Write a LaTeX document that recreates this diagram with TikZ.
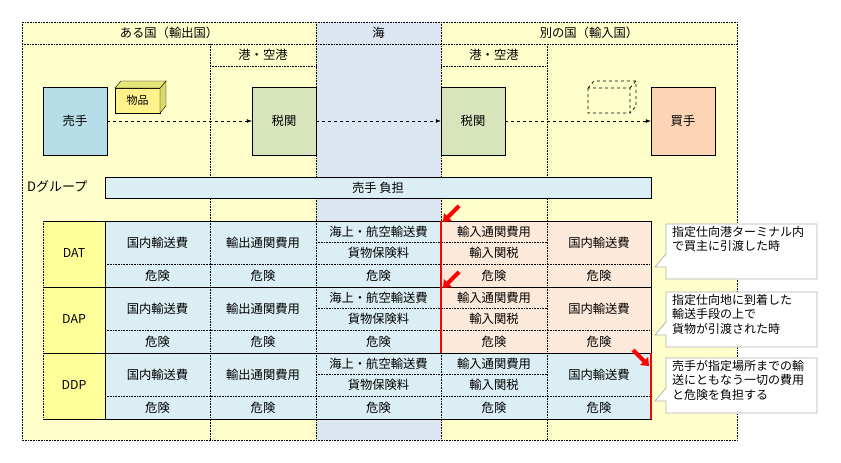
\documentclass[tikz,border=0pt]{standalone}
\usepackage{fontspec}
\setmainfont{Noto Sans CJK JP}
\usetikzlibrary{positioning, arrows.meta, calc}
\definecolor{bgYellow}{HTML}{FFFFCC}
\definecolor{seaBlue}{HTML}{DCE6F1}
\definecolor{sellerBlue}{HTML}{B7DEE8}
\definecolor{customsGreen}{HTML}{D8E4BC}
\definecolor{buyerPeach}{HTML}{FCD5B4}
\definecolor{cellBlue}{HTML}{DAEEF3}
\definecolor{cellPeach}{HTML}{FDE9D9}
\definecolor{termYellow}{HTML}{FFFF99}
\tikzset{
  party/.style = {draw, minimum width=64pt, minimum height=68pt, inner sep=0pt},
  dots/.style = {densely dotted, line width=0.6pt},
  cell/.style = {inner sep=0pt, font=\fontsize{12.3}{14}\selectfont},
  redArrow/.style = {red, line width=4pt, -{Triangle[length=7pt,width=11pt]}},
  callout/.style = {draw=gray!60, fill=white, line width=0.8pt}
}
\begin{document}
\begin{tikzpicture}[x=1pt, y=-1pt, font=\fontsize{12.3}{14}\selectfont]
  \useasboundingbox (0,0) rectangle (841,463);
  % background and columns
  \fill[bgYellow] (22,22) rectangle (737,440);
  \fill[seaBlue] (316,22) rectangle (441,440);
  \draw[dots] (22,22) rectangle (737,440);
  \draw[dots] (22,44) -- (737,44);
  \foreach \x in {316,441} \draw[dots] (\x,22) -- (\x,440);
  \foreach \x in {210,547} \draw[dots] (\x,44) -- (\x,440);
  \draw[dots] (210,66) -- (316,66);
  \draw[dots] (441,66) -- (547,66);
  \node[cell] (hExp) at (169,33) {ある国（輸出国）};
  \node[cell] (hSea) at (378.5,33) {海};
  \node[cell] (hImp) at (589,33) {別の国（輸入国）};
  \node[cell] (port1) at (263,55) {港・空港};
  \node[cell] (port2) at (494,55) {港・空港};

  % parties
  \node[party, fill=sellerBlue] (seller) at (75,121) {売手};
  \node[party, fill=customsGreen] (cusExp) at (284,121) {税関};
  \node[party, fill=customsGreen] (cusImp) at (473,121) {税関};
  \node[party, fill=buyerPeach] (buyer) at (683,121) {買手};
  % goods cubes
  \draw[fill=termYellow!90!orange] (115,88) rectangle (160,113);
  \draw[fill=termYellow!70!olive] (160,88) -- (166,81) -- (166,106) -- (160,113) -- cycle;
  \draw[fill=termYellow!80!olive] (115,88) -- (121,81) -- (166,81) -- (160,88) -- cycle;
  \node[cell, font=\fontsize{11}{13}\selectfont] (goods) at (137.5,100.5) {物品};
  \draw[dashed, line width=0.7pt] (588,88) rectangle (630,113)
    (588,88) -- (594,81) -- (636,81) -- (636,106) -- (630,113) (630,88) -- (636,81);
  \draw[dashed, -{Latex[length=5pt]}] (seller) -- (cusExp);
  \draw[dashed, -{Latex[length=5pt]}] (cusExp) -- (cusImp);
  \draw[dashed, -{Latex[length=5pt]}] (cusImp) -- (buyer);

  % D group bar
  \node[cell, anchor=west] (dgroup) at (27,186) {\fontsize{13}{15}\selectfont Dグループ};
  \draw[fill=cellBlue] (105,177) rectangle (651,198);
  \node[cell] (burden) at (378,187.5) {売手 負担};

  % term tables
  \foreach \term/\top/\imp in {DAT/221/cellPeach, DAP/287/cellPeach, DDP/353/cellBlue} {
    \pgfmathsetmacro{\mid}{\top+21.5}
    \pgfmathsetmacro{\rk}{\top+43}
    \pgfmathsetmacro{\bot}{\top+66}
    \fill[termYellow] (43,\top) rectangle (105,\bot);
    \fill[cellBlue] (105,\top) rectangle (441,\bot);
    \fill[\imp] (441,\top) rectangle (651,\bot);
    \draw[dots] (43,\top) -- (43,\bot);
    \draw[dots] (105,\rk) -- (651,\rk);
    \draw[dots] (316,\mid) -- (547,\mid);
    \foreach \x in {210,316,441,547} \draw[dots] (\x,\top) -- (\x,\bot);
    \draw[line width=0.8pt] (43,\top) -- (651,\top) -- (651,\bot) -- (43,\bot);
    \draw[line width=0.8pt] (105,\top) -- (105,\bot);
    \node[cell] (\term-name) at (74,\top+32) {\term};
    \node[cell] (\term-dom) at (157.5,\top+21.5) {国内輸送費};
    \node[cell] (\term-cust) at (263,\top+21.5) {輸出通関費用};
    \node[cell] (\term-sea) at (378.5,\top+10.5) {海上・航空輸送費};
    \node[cell] (\term-ins) at (378.5,\top+32) {貨物保険料};
    \node[cell] (\term-icust) at (494,\top+10.5) {輸入通関費用};
    \node[cell] (\term-duty) at (494,\top+32) {輸入関税};
    \node[cell] (\term-idom) at (599,\top+21.5) {国内輸送費};
    \foreach \x [count=\i] in {157.5,263,378.5,494,599}
      \node[cell] (\term-risk\i) at (\x,\top+54.5) {危険};
  }
  % delivery points
  \draw[red, line width=1.5pt] (441,221) -- (441,353);
  \draw[red, line width=1.5pt] (651,353) -- (651,419);
  \draw[redArrow] (459,206) -- (443,222);
  \draw[redArrow] (459,272) -- (443,288);
  \draw[redArrow] (633,350) -- (649,366);

  % callouts
  \foreach \y/\txt in {224/{指定仕向港ターミナル内\\で買主に引渡した時},
                       292/{指定仕向地に到着した\\輸送手段の上で\\貨物が引渡された時},
                       358/{売手が指定場所までの輸\\送にともなう一切の費用\\と危険を負担する}} {
    \draw[callout] (666,\y) -- (817,\y) -- (817,\y+55) -- (666,\y+55) -- (666,\y+43)
      -- (655,\y+43) -- (666,\y+30) -- cycle;
    \node[cell, anchor=north west, align=left, font=\fontsize{12}{14.5}\selectfont] at (672,\y+2) {\txt};
  }
\end{tikzpicture}
\end{document}
